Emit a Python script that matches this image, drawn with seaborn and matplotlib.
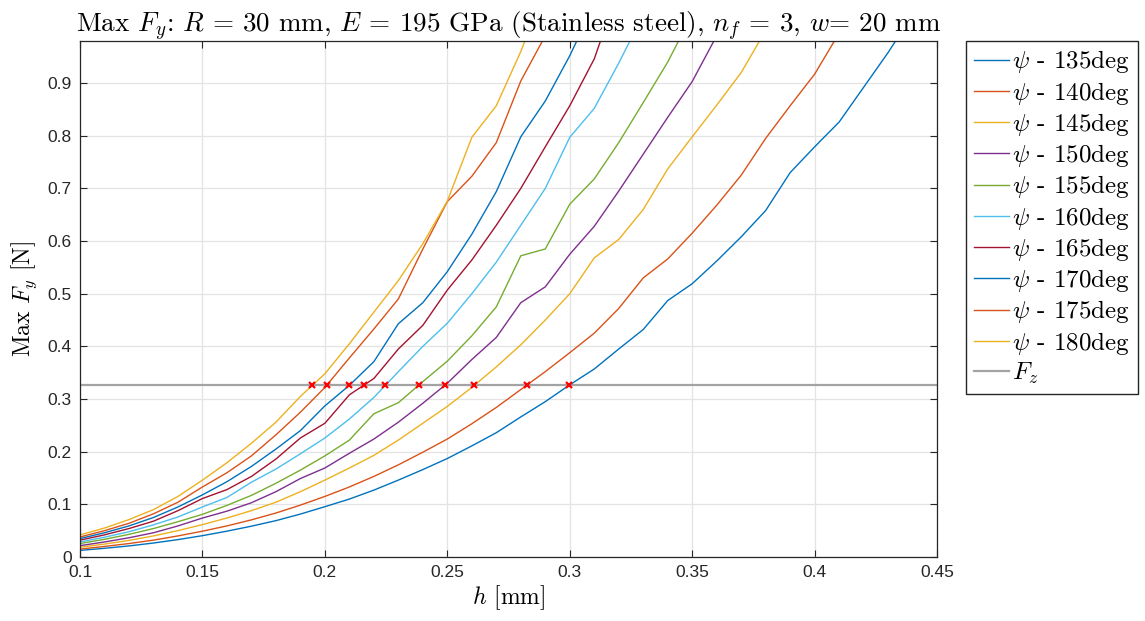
import numpy as np
import pandas as pd
import matplotlib
matplotlib.use("Agg")
import matplotlib.pyplot as plt
import seaborn as sns

# h [mm], sampled every 0.01 from 0.10
h = [round(0.10 + 0.01 * i, 2) for i in range(35)]

psi_labels = [135, 140, 145, 150, 155, 160, 165, 170, 175, 180]

fy_135 = [0.0125, 0.0165, 0.0210, 0.0265, 0.0330, 0.0405, 0.0490, 0.0585, 0.0690, 0.0815,
          0.0955, 0.1100, 0.1270, 0.1460, 0.1660, 0.1870, 0.2110, 0.2360, 0.2660, 0.2950,
          0.3270, 0.3570, 0.3950, 0.4320, 0.4870, 0.5190, 0.5620, 0.6080, 0.6580, 0.7300,
          0.7790, 0.8260, 0.8920, 0.9580, 1.0300]
fy_140 = [0.0150, 0.0200, 0.0255, 0.0320, 0.0400, 0.0490, 0.0590, 0.0705, 0.0835, 0.0985,
          0.1150, 0.1330, 0.1530, 0.1750, 0.1990, 0.2240, 0.2530, 0.2840, 0.3180, 0.3520,
          0.3880, 0.4250, 0.4720, 0.5300, 0.5660, 0.6150, 0.6680, 0.7250, 0.7950, 0.8570,
          0.9170, 0.9950]
fy_145 = [0.0185, 0.0245, 0.0315, 0.0400, 0.0500, 0.0615, 0.0740, 0.0880, 0.1040, 0.1240,
          0.1460, 0.1690, 0.1930, 0.2220, 0.2540, 0.2860, 0.3220, 0.3610, 0.4030, 0.4500,
          0.5000, 0.5680, 0.6030, 0.6600, 0.7370, 0.7980, 0.8580, 0.9200, 1.0000]
fy_150 = [0.0215, 0.0285, 0.0365, 0.0460, 0.0590, 0.0740, 0.0870, 0.1030, 0.1240, 0.1490,
          0.1690, 0.1970, 0.2240, 0.2560, 0.2920, 0.3300, 0.3750, 0.4170, 0.4830, 0.5130,
          0.5750, 0.6280, 0.6950, 0.7650, 0.8350, 0.9030, 0.9900]
fy_155 = [0.0255, 0.0335, 0.0430, 0.0540, 0.0670, 0.0810, 0.0980, 0.1170, 0.1400, 0.1650,
          0.1920, 0.2220, 0.2720, 0.2930, 0.3330, 0.3720, 0.4200, 0.4750, 0.5720, 0.5850,
          0.6700, 0.7180, 0.7870, 0.8630, 0.9400, 1.0300]
fy_160 = [0.0285, 0.0375, 0.0480, 0.0610, 0.0760, 0.0950, 0.1130, 0.1420, 0.1670, 0.1960,
          0.2260, 0.2620, 0.3030, 0.3520, 0.4000, 0.4440, 0.5000, 0.5600, 0.6300, 0.7000,
          0.7970, 0.8520, 0.9380, 1.0300]
fy_165 = [0.0320, 0.0420, 0.0540, 0.0680, 0.0880, 0.1110, 0.1280, 0.1530, 0.1860, 0.2260,
          0.2540, 0.3080, 0.3390, 0.3950, 0.4400, 0.5070, 0.5640, 0.6300, 0.7000, 0.7790,
          0.8570, 0.9460, 1.0800]
fy_170 = [0.0350, 0.0460, 0.0590, 0.0750, 0.0950, 0.1180, 0.1430, 0.1720, 0.2050, 0.2400,
          0.2870, 0.3260, 0.3710, 0.4430, 0.4830, 0.5420, 0.6130, 0.6940, 0.7980, 0.8660,
          0.9520, 1.0500]
fy_175 = [0.0380, 0.0500, 0.0640, 0.0820, 0.1040, 0.1330, 0.1600, 0.1920, 0.2320, 0.2750,
          0.3220, 0.3780, 0.4330, 0.4900, 0.5850, 0.6750, 0.7230, 0.7870, 0.9040, 0.9900]
fy_180 = [0.0420, 0.0550, 0.0710, 0.0900, 0.1150, 0.1460, 0.1790, 0.2160, 0.2560, 0.3050,
          0.3480, 0.4050, 0.4650, 0.5250, 0.5950, 0.6760, 0.7970, 0.8570, 0.9600, 1.0800]

fy_all = [fy_135, fy_140, fy_145, fy_150, fy_155, fy_160, fy_165, fy_170, fy_175, fy_180]

fz = 0.326

colors = ["#0072BD", "#D95319", "#EDB120", "#7E2F8E", "#77AC30",
          "#4DBEEE", "#A2142F", "#0072BD", "#D95319", "#EDB120"]

plt.rcParams["mathtext.fontset"] = "cm"

fig = plt.figure(figsize=(11.45, 6.21), dpi=100)
ax = fig.add_axes([0.0699, 0.1031, 0.7485, 0.8309])

for psi, fy, c in zip(psi_labels, fy_all, colors):
    d = pd.DataFrame({"h": h[:len(fy)], "Fy": fy})
    sns.lineplot(data=d, x="h", y="Fy", color=c, linewidth=1.0,
                 label=rf"$\psi$ - {psi}deg", ax=ax)

ax.axhline(fz, color="#a3a3a3", linewidth=1.6, label=r"$F_z$", zorder=1)

# intersections with F_z
for fy in fy_all:
    hx = np.interp(fz, fy, h[:len(fy)])
    ax.plot(hx, fz, "x", color="red", markersize=5, mew=1.6, zorder=5)

ax.set_xlim(0.1, 0.45)
ax.set_ylim(0, 0.98)
xt = [0.1, 0.15, 0.2, 0.25, 0.3, 0.35, 0.4, 0.45]
yt = [0, 0.1, 0.2, 0.3, 0.4, 0.5, 0.6, 0.7, 0.8, 0.9]
ax.set_xticks(xt)
ax.set_xticklabels([f"{v:g}" for v in xt], family="Liberation Sans", fontsize=12.5)
ax.set_yticks(yt)
ax.set_yticklabels([f"{v:g}" for v in yt], family="Liberation Sans", fontsize=12.5)
ax.tick_params(direction="in", length=5, width=0.8, top=True, right=True,
               colors="#262626", pad=6)
ax.grid(True, color="#e3e3e3", linewidth=0.9)
ax.set_axisbelow(True)
for s in ax.spines.values():
    s.set_color("#262626")
    s.set_linewidth(0.9)

ax.set_xlabel(r"$h$ [mm]", family="cmr10", fontsize=17, labelpad=2)
ax.set_ylabel(r"Max $F_y$ [N]", family="cmr10", fontsize=17, labelpad=6)
ax.set_title(r"Max $F_y$: $R$ = 30 mm, $E$ = 195 GPa (Stainless steel), $n_f$ = 3, $w$= 20 mm",
             family="cmr10", fontsize=19.5, pad=6)

ax.legend(loc="upper left", bbox_to_anchor=(0.8437, 0.934), bbox_transform=fig.transFigure,
          prop={"family": "cmr10", "size": 18}, frameon=True, fancybox=False,
          edgecolor="#262626", framealpha=1, handlelength=1.4, handletextpad=0.15,
          labelspacing=0.17, borderpad=0.3, borderaxespad=0)

fig.savefig("out.png", dpi=100)
